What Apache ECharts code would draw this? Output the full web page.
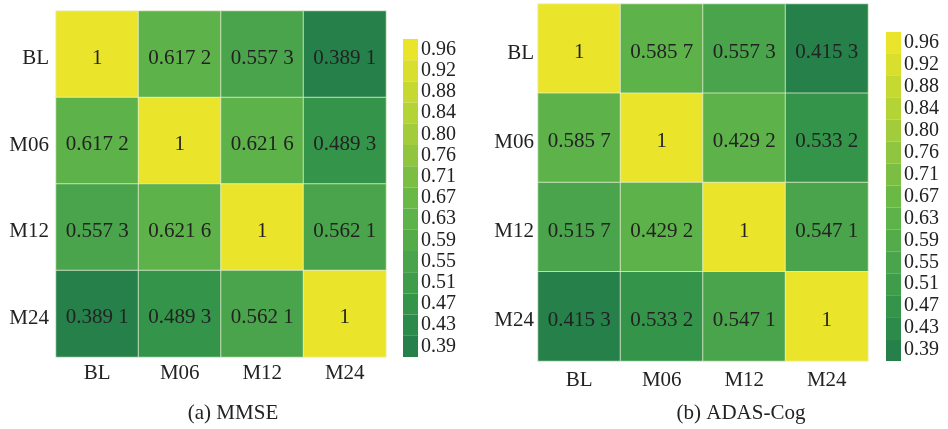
<!DOCTYPE html>
<html>
<head>
<meta charset="utf-8">
<script src="https://cdn.jsdelivr.net/npm/echarts@6/dist/echarts.min.js"></script>
<style>
html,body{margin:0;padding:0;background:#fff;}
#c{width:948px;height:429px;}
</style>
</head>
<body>
<div id="c"></div>
<script>
const rows = ['BL', 'M06', 'M12', 'M24'];
const cols = ['BL', 'M06', 'M12', 'M24'];
const mmseValues = [
  [1, 0.6172, 0.5573, 0.3891],
  [0.6172, 1, 0.6216, 0.4893],
  [0.5573, 0.6216, 1, 0.5621],
  [0.3891, 0.4893, 0.5621, 1]
];
const adasValues = [
  [1, 0.5857, 0.5573, 0.4153],
  [0.5857, 1, 0.4292, 0.5332],
  [0.5157, 0.4292, 1, 0.5471],
  [0.4153, 0.5332, 0.5471, 1]
];
// cell shades of panel (b)
const adasShade = [
  [1, 0.62, 0.56, 0.39],
  [0.62, 1, 0.62, 0.49],
  [0.56, 0.62, 1, 0.56],
  [0.39, 0.49, 0.56, 1]
];
const barTicks = ['0.96','0.92','0.88','0.84','0.80','0.76','0.71','0.67','0.63','0.59','0.55','0.51','0.47','0.43','0.39'];
const barColors = ['#EAE52B','#D8DF2F','#C6D933','#B4D337','#A2CC3B','#8FC53F','#7CBE43','#6AB846','#5DB249','#53AB4A','#4AA44B','#3F9C4A','#33944A','#2C8A4A','#25804A'];
const titles = ['(a) MMSE', '(b) ADAS-Cog'];

const FONT = 'Liberation Serif';
const TXT = '#222';

function buildPieces() {
  const nums = barTicks.map(parseFloat);
  return nums.map((t, i) => {
    const max = i === 0 ? 1.01 : (t + nums[i - 1]) / 2;
    const min = i === nums.length - 1 ? 0 : (t + nums[i + 1]) / 2;
    return { min: min, max: max, label: barTicks[i], color: barColors[i] };
  });
}
function fmt(v) {
  if (v === 1) return '1';
  const s = v.toFixed(4);
  return s.slice(0, 5) + ' ' + s.slice(5);
}
function buildData(shade, vals) {
  const d = [];
  for (let r = 0; r < rows.length; r++)
    for (let c = 0; c < cols.length; c++)
      d.push([c, r, shade[r][c], vals[r][c]]);
  return d;
}

const grids = [
  { left: 56, top: 11, width: 330, height: 346 },
  { left: 538, top: 4, width: 330, height: 357 }
];
const vmPos = [
  { left: 403, top: 39, itemHeight: 318 / 15 },
  { left: 886, top: 32, itemHeight: 329 / 15 }
];
const xMargin = [6, 9];
const yMargin = [7, 4];

function axis(type, i) {
  const lab = {
    fontFamily: FONT, fontSize: 21, color: TXT,
    margin: type === 'x' ? xMargin[i] : yMargin[i]
  };
  if (type === 'y') {
    lab.formatter = v => '{d|' + v + '}';
    lab.rich = { d: { fontFamily: FONT, fontSize: 21, color: TXT, padding: [9, 0, 0, 0] } };
  }
  return {
    type: 'category',
    gridIndex: i,
    data: type === 'x' ? cols : rows,
    inverse: type === 'y',
    axisLine: { show: false },
    axisTick: { show: false },
    splitArea: { show: false },
    axisLabel: lab
  };
}

const option = {
  animation: false,
  backgroundColor: '#fff',
  grid: grids,
  xAxis: [axis('x', 0), axis('x', 1)],
  yAxis: [axis('y', 0), axis('y', 1)],
  visualMap: [0, 1].map(i => ({
    type: 'piecewise',
    seriesIndex: i,
    dimension: 2,
    orient: 'vertical',
    align: 'left',
    left: vmPos[i].left,
    top: vmPos[i].top,
    itemWidth: 15,
    itemHeight: vmPos[i].itemHeight,
    itemGap: 0,
    itemSymbol: 'rect',
    textGap: 3,
    padding: 0,
    hoverLink: false,
    selectedMode: false,
    pieces: buildPieces(),
    textStyle: { fontFamily: FONT, fontSize: 20, color: TXT }
  })),
  series: [
    { shade: mmseValues, vals: mmseValues },
    { shade: adasShade, vals: adasValues }
  ].map((s, i) => ({
    type: 'heatmap',
    xAxisIndex: i,
    yAxisIndex: i,
    data: buildData(s.shade, s.vals),
    itemStyle: { borderColor: 'rgba(235,240,215,0.75)', borderWidth: 1 },
    label: {
      show: true,
      fontFamily: FONT,
      fontSize: 21,
      color: TXT,
      offset: [0, 4],
      formatter: p => fmt(p.value[3])
    },
    emphasis: { disabled: true }
  })),
  graphic: [
    { type: 'text', x: 233, y: 413, style: { text: titles[0], align: 'center', verticalAlign: 'middle', fontSize: 21, fontFamily: FONT, fill: TXT } },
    { type: 'text', x: 741, y: 413, style: { text: titles[1], align: 'center', verticalAlign: 'middle', fontSize: 21, fontFamily: FONT, fill: TXT } }
  ]
};
const chart = echarts.init(document.getElementById('c'), null, { renderer: 'canvas' });
chart.setOption(option);
</script>
</body>
</html>
